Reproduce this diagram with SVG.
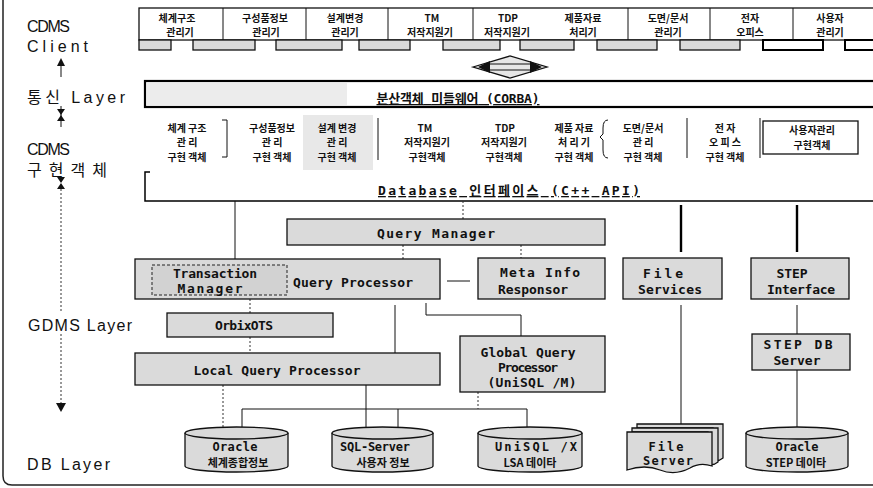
<svg xmlns="http://www.w3.org/2000/svg" width="873" height="488" viewBox="0 0 873 488" xml:space="preserve">
<defs>
<style>
.b{fill:#dadada;stroke:#111;stroke-width:1.3}
.w{fill:#fff;stroke:#111;stroke-width:1.3}
.ln{stroke:#111;stroke-width:1;fill:none}
.dl{stroke:#333;stroke-width:1;fill:none;stroke-dasharray:2 2}
.tk{stroke:#000;stroke-width:2.4;fill:none}
.ah{fill:#111}
.lab{font-family:"Liberation Sans","Noto Sans CJK KR",sans-serif;font-size:16px;fill:#111}
.m{font-family:"DejaVu Sans Mono","Noto Sans CJK KR",monospace;font-weight:bold;font-size:13px;fill:#111;text-anchor:middle}
.k{font-family:"Noto Sans CJK KR",sans-serif;font-weight:bold;font-size:10px;fill:#111;text-anchor:middle}
.kc{font-family:"Noto Sans CJK KR",sans-serif;font-weight:bold;font-size:11px;fill:#111;text-anchor:middle}
.mc{font-family:"DejaVu Sans Mono",monospace;font-weight:bold;font-size:12px;fill:#111;text-anchor:middle}
</style>
</defs>

<!-- outer frame -->
<path d="M3,0 V476 Q3,485 12,485 H873" fill="none" stroke="#222" stroke-width="1.5"/>

<!-- left layer labels -->
<g id="layer-labels">
<text class="lab" x="27" y="32" textLength="43">CDMS</text>
<text class="lab" x="27" y="52" textLength="61">Client</text>
<text class="lab" x="27" y="103" textLength="98">통신 Layer</text>
<text class="lab" x="27" y="155" textLength="43">CDMS</text>
<text class="lab" x="27" y="176" textLength="80">구현객체</text>
<text class="lab" x="28" y="331" textLength="104">GDMS Layer</text>
<text class="lab" x="27" y="470" textLength="83">DB Layer</text>
</g>

<!-- left layer arrows -->
<g id="layer-arrows">
<line class="ln" x1="61" y1="77" x2="61" y2="64"/>
<polygon class="ah" points="57,66 65,66 61,58"/>
<line class="ln" x1="61" y1="106" x2="61" y2="127"/>
<polygon class="ah" points="57,109 65,109 61,115"/>
<polygon class="ah" points="57,121 65,121 61,115"/>
<polygon class="ah" points="57,177 65,177 61,183"/>
<polygon class="ah" points="57,189 65,189 61,183"/>
<line class="dl" x1="61" y1="189" x2="61" y2="313"/>
<line class="dl" x1="61" y1="334" x2="61" y2="404"/>
<polygon class="ah" points="56,403 66,403 61,412"/>
</g>

<!-- CDMS client row -->
<g id="client-row">
<rect class="w" x="139" y="8" width="740" height="32"/>
<g class="ln">
<line x1="223" y1="8" x2="223" y2="40"/>
<line x1="306" y1="8" x2="306" y2="40"/>
<line x1="388" y1="8" x2="388" y2="40"/>
<line x1="473" y1="8" x2="473" y2="40"/>
<line x1="628" y1="8" x2="628" y2="40"/>
<line x1="710" y1="8" x2="710" y2="40"/>
<line x1="793" y1="8" x2="793" y2="40"/>
</g>
<rect class="b" x="139" y="40" width="32" height="10"/>
<rect class="b" x="193" y="40" width="62" height="10"/>
<rect class="b" x="276" y="40" width="66" height="10"/>
<rect class="b" x="359" y="40" width="51" height="10"/>
<rect class="b" x="443" y="40" width="57" height="10"/>
<rect class="b" x="520" y="40" width="54" height="10"/>
<rect class="b" x="597" y="40" width="60" height="10"/>
<rect class="b" x="680" y="40" width="60" height="10"/>
<rect x="763" y="40" width="60" height="10" fill="#fff" stroke="#000" stroke-width="2"/>
<rect x="845" y="40" width="40" height="10" fill="#fff" stroke="#000" stroke-width="2"/>
<text class="k" x="177" y="22">체계구조</text><text class="k" x="180" y="36">관리기</text>
<text class="k" x="265" y="22">구성품정보</text><text class="k" x="266" y="36">관리기</text>
<text class="k" x="345" y="22">설계변경</text><text class="k" x="345" y="36">관리기</text>
<text class="k" x="432" y="22">TM</text><text class="k" x="430" y="36">저작지원기</text>
<text class="k" x="508" y="22">TDP</text><text class="k" x="507" y="36">저작지원기</text>
<text class="k" x="583" y="22">제품자료</text><text class="k" x="583" y="36">처리기</text>
<text class="k" x="668" y="22">도면/문서</text><text class="k" x="668" y="36">관리기</text>
<text class="k" x="750" y="22">전자</text><text class="k" x="750" y="36">오피스</text>
<text class="k" x="830" y="22">사용자</text><text class="k" x="830" y="36">관리기</text>
</g>

<!-- double arrow between client and middleware -->
<g id="corba-link">
<polygon points="473,67 510,56 547,67 510,78" fill="#e6e6e6" stroke="#111" stroke-width="1.3"/>
<line class="ln" x1="486" y1="64" x2="534" y2="64"/>
<line class="ln" x1="486" y1="70" x2="534" y2="70"/>
<polygon class="ah" points="478,67 490,61 490,73"/>
<polygon class="ah" points="542,67 530,61 530,73"/>
</g>

<!-- CORBA bar -->
<g id="corba">
<rect x="145" y="81" width="735" height="26" fill="#fff" stroke="#000" stroke-width="2.2"/>
<rect x="147" y="83" width="200" height="22" fill="#ececec"/>
<text class="m" x="458" y="103" font-size="13" textLength="163" text-decoration="underline">분산객체 미들웨어 (CORBA)</text>
</g>

<!-- CDMS implementation objects -->
<g id="impl-row">
<rect x="303" y="115" width="70" height="55" fill="#e8e8e8"/>
<g class="ln">
<path d="M222,120 H227 V157 H222"/>
<line x1="378" y1="118" x2="378" y2="160"/>
<path d="M608,120 Q603,120 603,128 V134 L600,137 L603,140 V150 Q603,158 608,158"/>
<line x1="687" y1="118" x2="687" y2="158"/>
<line x1="760" y1="118" x2="760" y2="158"/>
</g>
<text class="k" x="187" y="132">체계 구조</text><text class="k" x="187" y="146">관    리</text><text class="k" x="187" y="161">구현 객체</text>
<text class="k" x="272" y="132">구성품정보</text><text class="k" x="272" y="146">관    리</text><text class="k" x="272" y="161">구현 객체</text>
<text class="k" x="337" y="132">설계 변경</text><text class="k" x="337" y="146">관    리</text><text class="k" x="337" y="161">구현 객체</text>
<text class="k" x="425" y="132">TM</text><text class="k" x="427" y="146">저작지원기</text><text class="k" x="427" y="161">구현객체</text>
<text class="k" x="505" y="132">TDP</text><text class="k" x="504" y="146">저작지원기</text><text class="k" x="504" y="161">구현객체</text>
<text class="k" x="574" y="132">제품 자료</text><text class="k" x="574" y="146">처 리 기</text><text class="k" x="574" y="161">구현 객체</text>
<text class="k" x="643" y="132">도면/문서</text><text class="k" x="643" y="146">관    리</text><text class="k" x="643" y="161">구현 객체</text>
<text class="k" x="725" y="132">전    자</text><text class="k" x="725" y="146">오 피 스</text><text class="k" x="725" y="161">구현 객체</text>
</g>
<g id="user-impl">
<rect class="w" x="763" y="121" width="95" height="33"/>
<text class="k" x="812" y="134" font-size="9.5">사용자관리</text><text class="k" x="812" y="149" font-size="9.5">구현객체</text>
</g>

<!-- Database interface -->
<g id="db-interface">
<path d="M150,172 H145 V201 H880" fill="none" stroke="#000" stroke-width="1.5"/>
<text class="m" x="509" y="195" font-size="15" textLength="262" text-decoration="underline">Database 인터페이스 (C++ API)</text>
</g>

<!-- connectors -->
<g id="connectors">
<line class="ln" x1="235" y1="201" x2="235" y2="259"/>
<line class="dl" x1="463" y1="201" x2="463" y2="219"/>
<line class="tk" x1="681" y1="205" x2="681" y2="252"/>
<line class="tk" x1="797" y1="205" x2="797" y2="252"/>
<line class="dl" x1="403" y1="245" x2="403" y2="259"/>
<line class="dl" x1="521" y1="245" x2="521" y2="258"/>
<line class="ln" x1="447" y1="281" x2="470" y2="281"/>
<line class="dl" x1="250" y1="299" x2="250" y2="313"/>
<line class="dl" x1="250" y1="337" x2="250" y2="353"/>
<line class="ln" x1="395" y1="305" x2="395" y2="353"/>
<path class="ln" d="M426,303 V315 H521 V336"/>
<line class="dl" x1="223" y1="385" x2="223" y2="427"/>
<line class="ln" x1="366" y1="385" x2="366" y2="428"/>
<path class="ln" d="M242,427 V409 H527 V427"/>
<line class="ln" x1="398" y1="409" x2="398" y2="428"/>
<line class="dl" x1="478" y1="392" x2="478" y2="409"/>
<line class="ln" x1="681" y1="305" x2="681" y2="426"/>
<line class="ln" x1="797" y1="305" x2="797" y2="334"/>
<line class="ln" x1="797" y1="370" x2="797" y2="427"/>
</g>

<!-- GDMS nodes -->
<g id="query-manager">
<rect class="b" x="287" y="219" width="318" height="26"/>
<text class="m" x="436" y="238" font-size="15" textLength="118">Query Manager</text>
</g>
<g id="query-processor">
<rect class="b" x="135" y="259" width="305" height="40"/>
<text class="m" x="353" y="287" font-size="14" textLength="120">Query Processor</text>
</g>
<g id="transaction-manager">
<rect x="152" y="265" width="135" height="30" fill="#d2d2d2" stroke="#222" stroke-width="1" stroke-dasharray="3 2"/>
<text class="m" x="215" y="278" font-size="12" textLength="84">Transaction</text>
<text class="m" x="210" y="293" font-size="12" textLength="65">Manager</text>
</g>
<g id="meta-info">
<rect class="b" x="478" y="258" width="127" height="41"/>
<text class="m" x="540" y="277" font-size="14" textLength="80">Meta Info</text>
<text class="m" x="533" y="294" font-size="13" textLength="70">Responsor</text>
</g>
<g id="file-services">
<rect class="b" x="623" y="258" width="99" height="41"/>
<text class="m" x="663" y="278" font-size="13" textLength="40">File</text>
<text class="m" x="670" y="294" font-size="13" textLength="64">Services</text>
</g>
<g id="step-interface">
<rect class="b" x="751" y="258" width="98" height="41"/>
<text class="m" x="792" y="278" font-size="13" textLength="31">STEP</text>
<text class="m" x="801" y="294" font-size="13" textLength="68">Interface</text>
</g>
<g id="orbixots">
<rect class="b" x="167" y="313" width="166" height="24"/>
<text class="m" x="244" y="330" font-size="13" textLength="58">OrbixOTS</text>
</g>
<g id="local-query-processor">
<rect class="b" x="135" y="353" width="305" height="32"/>
<text class="m" x="277" y="375" font-size="13" textLength="167">Local Query Processor</text>
</g>
<g id="global-query-processor">
<rect class="b" x="460" y="336" width="145" height="56"/>
<text class="m" x="528" y="357" font-size="12" textLength="95">Global Query</text>
<text class="m" x="528" y="372" font-size="12" textLength="60">Processor</text>
<text class="m" x="532" y="387" font-size="12" textLength="89">(UniSQL /M)</text>
</g>
<g id="step-db-server">
<rect class="b" x="752" y="334" width="98" height="36"/>
<text class="m" x="798" y="349" font-size="13" textLength="69">STEP DB</text>
<text class="m" x="797" y="365" font-size="13" textLength="47">Server</text>
</g>

<!-- DB layer -->
<g id="db-oracle">
<path class="b" d="M185,433 V466 A51.5,6 0 0 0 288,466 V433"/>
<ellipse class="b" cx="236.5" cy="433" rx="51.5" ry="6"/>
<text class="mc" x="235" y="451" textLength="45">Oracle</text>
<text class="kc" x="238" y="467">체계종합정보</text>
</g>
<g id="db-sqlserver">
<path class="b" d="M332,433 V466 A50.5,6 0 0 0 433,466 V433"/>
<ellipse class="b" cx="382.5" cy="433" rx="50.5" ry="6"/>
<text class="mc" x="375" y="451" textLength="70">SQL-Server</text>
<text class="kc" x="383" y="467">사용자 정보</text>
</g>
<g id="db-unisql">
<path class="b" d="M478,433 V466 A52,6 0 0 0 582,466 V433"/>
<ellipse class="b" cx="530" cy="433" rx="52" ry="6"/>
<text class="mc" x="536" y="451" textLength="82">UniSQL /X</text>
<text class="kc" x="530" y="467">LSA 데이타</text>
</g>
<g id="file-server">
<path class="b" d="M637,424 H723 V458 Q718,462 713,460 V428 H637 Z"/>
<path class="b" d="M632,428 H718 V462 Q713,466 708,464 V432 H632 Z"/>
<path class="b" d="M627,432 H712 V466 Q700,462 690,468 Q675,476 660,470 Q645,464 627,470 Z"/>
<text class="mc" x="666" y="451" textLength="35">File</text>
<text class="mc" x="668" y="465" textLength="50">Server</text>
</g>
<g id="db-oracle-step">
<path class="b" d="M746,433 V466 A51,6 0 0 0 848,466 V433"/>
<ellipse class="b" cx="797" cy="433" rx="51" ry="6"/>
<text class="mc" x="797" y="451" textLength="43">Oracle</text>
<text class="kc" x="796" y="467">STEP 데이타</text>
</g>
</svg>
